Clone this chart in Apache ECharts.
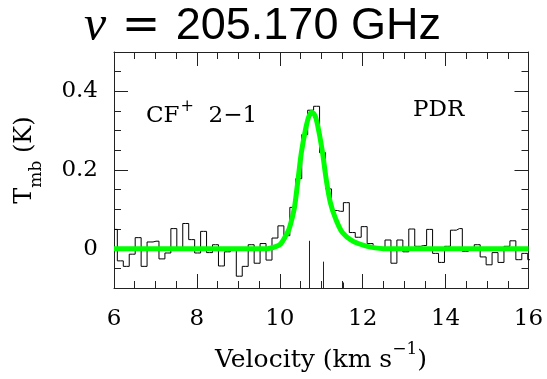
<!DOCTYPE html>
<html>
<head>
<meta charset="utf-8">
<script src="https://cdn.jsdelivr.net/npm/echarts@6/dist/echarts.min.js"></script>
<style>html,body{margin:0;padding:0;background:#fff;}#c{width:547px;height:379px;}</style>
</head>
<body>
<div id="c"></div>
<script>
// channel centre velocities (km/s)
const velocity = [6.009,6.152,6.296,6.439,6.583,6.726,6.870,7.013,7.157,7.300,
 7.444,7.587,7.731,7.874,8.018,8.161,8.305,8.448,8.592,8.735,
 8.879,9.022,9.166,9.309,9.453,9.596,9.740,9.883,10.027,10.170,
 10.314,10.457,10.601,10.744,10.888,11.031,11.175,11.318,11.462,11.605,
 11.749,11.892,12.036,12.179,12.323,12.466,12.610,12.753,12.897,13.040,
 13.184,13.327,13.471,13.614,13.758,13.901,14.045,14.188,14.332,14.475,
 14.619,14.762,14.906,15.049,15.193,15.336,15.480,15.623,15.767,15.910,
 16.054];
// observed spectrum Tmb (K)
const tmb = [0.049,-0.031,-0.045,-0.014,0.028,-0.045,0.017,0.019,-0.026,-0.011,
 0.051,0.000,0.064,0.023,-0.011,0.044,-0.010,0.010,-0.044,-0.008,
 0.003,-0.070,-0.045,0.010,-0.037,0.013,-0.029,0.027,0.058,0.033,
 0.105,0.178,0.290,0.352,0.362,0.244,0.152,0.097,0.095,0.117,
 0.041,0.029,0.056,0.013,0.004,0.002,0.022,-0.037,0.022,-0.008,
 0.050,0.006,0.008,0.049,-0.012,-0.035,0.006,0.047,0.051,-0.007,
 0.001,0.010,-0.021,-0.041,-0.010,-0.035,0.006,0.020,-0.028,-0.012,
 -0.028];
// fitted profile
const fitV = [6.0,9.7,9.9,10.02,10.14,10.22,10.30,10.36,10.44,10.52,10.62,10.70,10.77,10.84,10.90,11.02,11.12,11.22,11.35,11.51,11.75,12.07,12.3,12.5,16.0];
const fitT = [0,0,0.005,0.012,0.032,0.049,0.079,0.109,0.176,0.244,0.303,0.336,0.346,0.340,0.320,0.252,0.176,0.117,0.075,0.041,0.020,0.007,0.002,0,0];
// hyperfine component markers
const markV = [10.70, 11.04, 11.52];
const markTop = [0.020, -0.033, -0.086];
const markBase = -0.1;
const yLabelValues = [0, 0.2, 0.4];

const FONT = 'DejaVu Serif';
const AX = '#222';
const chart = echarts.init(document.getElementById('c'), null, {renderer:'canvas'});

function xAx(pos, labels){
  return {type:'value', min:6, max:16, interval:2, position:pos,
    axisLine:{show:true, onZero:false, lineStyle:{color:AX, width:1}},
    axisTick:{show:true, inside:true, length:14, lineStyle:{color:AX, width:1}},
    minorTick:{show:true, splitNumber:4, length:7, lineStyle:{color:AX, width:1}},
    splitLine:{show:false}, minorSplitLine:{show:false},
    axisLabel:{show:labels, margin:20, fontFamily:FONT, fontSize:23, color:'#000'}};
}
function yMinor(pos, labels){
  return {type:'value', min:-0.1, max:0.5, interval:0.05, position:pos,
    axisLine:{show:true, onZero:false, lineStyle:{color:AX, width:1}},
    axisTick:{show:true, inside:true, length:7, lineStyle:{color:AX, width:1}},
    splitLine:{show:false},
    axisLabel:{show:labels, customValues:yLabelValues, margin:16, fontFamily:FONT, fontSize:23, color:'#000',
      formatter:function(v){
        for (const t of yLabelValues){ if (Math.abs(v-t)<1e-6) return t===0?'0':t.toFixed(1); }
        return '';
      }}};
}
function yMajor(pos){
  return {type:'value', min:-0.1, max:0.5, position:pos,
    axisLine:{show:false, onZero:false},
    axisTick:{show:true, inside:true, length:14, customValues:yLabelValues, lineStyle:{color:AX, width:1}},
    splitLine:{show:false}, axisLabel:{show:false}};
}

const option = {
  animation:false,
  backgroundColor:'#fff',
  title:{
    text:'{nu|ν} {eq|=} 205.170 GHz',
    left:84, top:2, padding:0,
    textStyle:{fontFamily:'Liberation Sans', fontSize:45, fontWeight:'normal', color:'#000',
      rich:{
        nu:{fontFamily:'Liberation Serif', fontStyle:'italic', fontSize:50, color:'#000'},
        eq:{fontFamily:'DejaVu Sans', fontSize:46, color:'#000', padding:[0,3,0,3]}
      }}
  },
  grid:{left:114, right:18.5, top:52, bottom:91, containLabel:false},
  xAxis:[xAx('bottom', true), xAx('top', false)],
  yAxis:[yMinor('left', true), yMajor('left'), yMinor('right', false), yMajor('right')],
  graphic:[
    {type:'text', left:146, top:99, z:10,
      style:{text:'{a|CF}{p|+}{a|  2−1}', fill:'#000',
        rich:{a:{fontFamily:FONT, fontSize:23, lineHeight:29, verticalAlign:'bottom'},
              p:{fontFamily:FONT, fontSize:16, lineHeight:29, verticalAlign:'top', padding:[0,0,0,1]}}}},
    {type:'text', left:413, top:99, z:10,
      style:{text:'PDR', fill:'#000', font:'23px "DejaVu Serif"'}},
    {type:'text', x:321, y:357, z:10,
      style:{text:'{a|Velocity (km s}{p|−1}{a|)}', fill:'#000', align:'center', verticalAlign:'middle',
        rich:{a:{fontFamily:FONT, fontSize:25, lineHeight:32, verticalAlign:'bottom'},
              p:{fontFamily:FONT, fontSize:17, lineHeight:32, verticalAlign:'top'}}}},
    {type:'text', x:29, y:160, rotation:Math.PI/2, z:10,
      style:{text:'{a|T}{s|mb}{a| (K)}', fill:'#000', align:'center', verticalAlign:'middle',
        rich:{a:{fontFamily:FONT, fontSize:24, lineHeight:32, verticalAlign:'top'},
              s:{fontFamily:FONT, fontSize:17, lineHeight:32, verticalAlign:'bottom'}}}}
  ],
  series:[
    {type:'lines', coordinateSystem:'cartesian2d', xAxisIndex:0, yAxisIndex:0, z:1,
      lineStyle:{color:'#222', width:1, opacity:1},
      data:markV.map((v,i)=>({coords:[[v,markBase],[v,markTop[i]]]}))},
    {type:'line', xAxisIndex:0, yAxisIndex:0, step:'middle', symbol:'none', z:2,
      lineStyle:{color:'#000', width:1}, clip:true,
      data:velocity.map((v,i)=>[v,tmb[i]])},
    {type:'line', xAxisIndex:0, yAxisIndex:0, smooth:0.3, symbol:'none', z:3,
      lineStyle:{color:'#00ff00', width:5}, clip:true,
      data:fitV.map((v,i)=>[v,fitT[i]])}
  ]
};
chart.setOption(option);
</script>
</body>
</html>
